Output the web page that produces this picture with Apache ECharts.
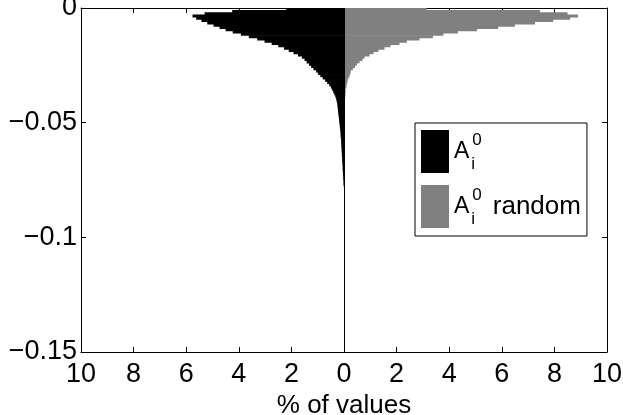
<!DOCTYPE html>
<html>
<head>
<meta charset="utf-8">
<script src="https://cdn.jsdelivr.net/npm/echarts@6/dist/echarts.min.js"></script>
<style>
    * {margin: 0; padding: 0;}
    body {background: #fff;}
    #main {width: 623px; height: 415px;}
</style>
</head>
<body>
<div id="main"></div>
<script type="text/javascript">
// histogram bins: 0.001 wide, from 0 down to -0.15 (top to bottom)
const BIN_WIDTH = 0.001;
const BIN_COUNT = 150;
const BIN_LABELS = [];
for (let i = 0; i < BIN_COUNT; i++) {
    BIN_LABELS.push((-i * BIN_WIDTH).toFixed(3));
}

// % of values per bin, A_i^0 (drawn to the left)
const A0_PCT = [
    2.2, 4.25, 5.3, 5.76, 5.62, 5.42, 5.2, 4.96, 4.73, 4.5,
    4.23, 3.92, 3.62, 3.3, 3.02, 2.75, 2.5, 2.28, 2.1, 1.92,
    1.75, 1.6, 1.5, 1.42, 1.33, 1.25, 1.16, 1.06, 0.99, 0.9,
    0.81, 0.72, 0.64, 0.56, 0.5, 0.45, 0.41, 0.37, 0.33, 0.3,
    0.28, 0.26, 0.25, 0.24, 0.23, 0.22, 0.21, 0.2, 0.19, 0.18,
    0.17, 0.16, 0.15, 0.14, 0.13, 0.13, 0.12, 0.11, 0.11, 0.1,
    0.1, 0.09, 0.09, 0.08, 0.08, 0.07, 0.07, 0.06, 0.06, 0.05,
    0.05, 0.04, 0.04, 0.03, 0.03, 0.02, 0.02, 0.01
];

// % of values per bin, A_i^0 random (drawn to the right)
const A0_RANDOM_PCT = [
    3.15, 7.45, 8.5, 8.9, 8.6, 7.95, 7.26, 6.5, 5.86, 5.06,
    4.33, 3.78, 3.38, 2.87, 2.39, 2.11, 1.77, 1.54, 1.31, 1.12,
    0.97, 0.78, 0.7, 0.59, 0.49, 0.42, 0.34, 0.26, 0.24, 0.21,
    0.17, 0.14, 0.12, 0.1, 0.09, 0.06, 0.06, 0.05, 0.05, 0.03,
    0.02, 0.02, 0.01
];

const X_MIN = -10;
const X_MAX = 10;
const X_STEP = 2;
const Y_MIN = -0.15;
const Y_MAX = 0;
const Y_STEP = 0.05;

const FONT = '"Liberation Sans", Arial, Helvetica, sans-serif';
const BLACK = '#000';
const GRAY = '#808080';
// a bit wider than one bin so neighbouring bars overlap and leave no seams
const BAR_WIDTH = 3;

function frameAxis(extra) {
    return Object.assign({
        axisLine: {show: true, onZero: false, lineStyle: {color: BLACK, width: 1}},
        axisTick: {show: true, inside: true, length: 5, lineStyle: {color: BLACK, width: 1}},
        splitLine: {show: false},
        axisLabel: {show: false}
    }, extra);
}

const xLabel = {
    show: true,
    color: BLACK,
    fontSize: 27,
    fontFamily: FONT,
    margin: 9,
    formatter: v => String(Math.abs(v))
};

const yLabel = {
    show: true,
    color: BLACK,
    fontSize: 27,
    fontFamily: FONT,
    margin: 4,
    formatter: v => String(v).replace('-', '\u2212')
};

const option = {
    animation: false,
    backgroundColor: '#fff',
    grid: {left: 81, right: 16, top: 8, bottom: 63, containLabel: false, outerBoundsMode: 'none'},
    legend: {
        orient: 'vertical',
        left: 415,
        top: 123,
        padding: [7, 6, 8, 6],
        itemWidth: 28,
        itemHeight: 43,
        itemGap: 12,
        icon: 'rect',
        selectedMode: false,
        borderColor: BLACK,
        borderWidth: 1,
        backgroundColor: '#fff',
        itemStyle: {borderWidth: 0},
        data: ['A0', 'A0 random'],
        formatter: name => (name === 'A0'
            ? '{a|A}{sub|i}{sup|0}'
            : '{a|A}{sub|i}{sup|0}{t|random}'),
        textStyle: {
            color: BLACK,
            fontFamily: FONT,
            fontSize: 26,
            rich: {
                a: {fontSize: 23, lineHeight: 43, fontFamily: FONT, color: BLACK, padding: [0, 2, 0, 0]},
                sub: {fontSize: 17, lineHeight: 14, fontFamily: FONT, color: BLACK, verticalAlign: 'bottom', width: 1},
                sup: {fontSize: 17, lineHeight: 17, fontFamily: FONT, color: BLACK, verticalAlign: 'top', padding: [2, 0, 0, 0]},
                t: {fontSize: 26, lineHeight: 43, fontFamily: FONT, color: BLACK, padding: [0, 0, 0, 11]}
            }
        }
    },
    xAxis: [
        frameAxis({
            type: 'value',
            position: 'bottom',
            min: X_MIN,
            max: X_MAX,
            interval: X_STEP,
            axisLabel: xLabel,
            name: '% of values',
            nameLocation: 'middle',
            nameGap: 40,
            nameTextStyle: {color: BLACK, fontSize: 26, fontFamily: FONT}
        }),
        frameAxis({
            type: 'value',
            position: 'top',
            min: X_MIN,
            max: X_MAX,
            interval: X_STEP
        })
    ],
    yAxis: [
        {
            type: 'category',
            data: BIN_LABELS,
            inverse: true,
            show: false,
            axisLine: {onZero: false}
        },
        frameAxis({
            type: 'value',
            position: 'left',
            min: Y_MIN,
            max: Y_MAX,
            interval: Y_STEP,
            axisLabel: yLabel
        }),
        frameAxis({
            type: 'value',
            position: 'right',
            min: Y_MIN,
            max: Y_MAX,
            interval: Y_STEP
        })
    ],
    series: [
        {
            name: 'A0',
            type: 'bar',
            xAxisIndex: 0,
            yAxisIndex: 0,
            barWidth: BAR_WIDTH,
            barGap: '-100%',
            itemStyle: {color: BLACK},
            data: A0_PCT.map(v => -v)
        },
        {
            name: 'A0 random',
            type: 'bar',
            xAxisIndex: 0,
            yAxisIndex: 0,
            barWidth: BAR_WIDTH,
            barGap: '-100%',
            itemStyle: {color: GRAY},
            data: A0_RANDOM_PCT,
            // baseline at x = 0
            markLine: {
                silent: true,
                symbol: 'none',
                label: {show: false},
                lineStyle: {color: BLACK, width: 1, type: 'solid'},
                data: [{xAxis: 0}]
            }
        }
    ]
};

const chart = echarts.init(document.getElementById('main'), null, {renderer: 'canvas'});
chart.setOption(option);
</script>
</body>
</html>
